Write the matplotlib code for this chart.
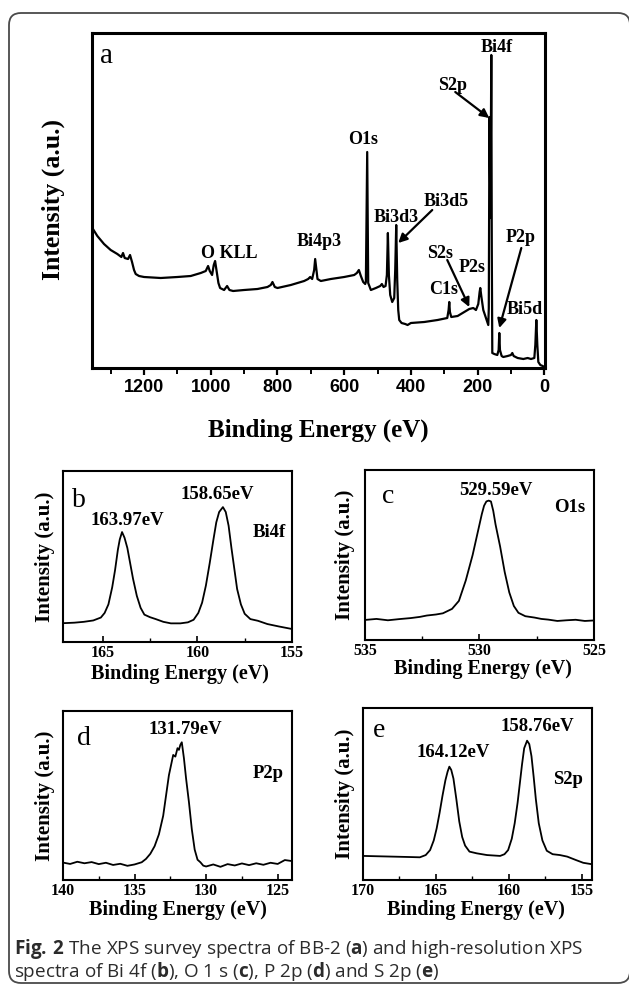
import matplotlib
matplotlib.use('Agg')
import matplotlib.pyplot as plt
from matplotlib.patches import FancyBboxPatch
from matplotlib.transforms import IdentityTransform
from matplotlib.ticker import MultipleLocator

plt.rcParams['font.family'] = ['Liberation Serif', 'DejaVu Serif']
plt.rcParams['mathtext.fontset'] = 'custom'
plt.rcParams['mathtext.rm'] = 'Open Sans'
plt.rcParams['mathtext.bf'] = 'Open Sans:bold'

# ---------------- data ----------------
# (a) survey spectrum: binding energy (eV) and intensity (a.u.)
survey_energy = [1355, 1340, 1320, 1300, 1280, 1268, 1263, 1258, 1248, 1242, 1236, 1230, 1225, 1215,
                 1200, 1150, 1100, 1060, 1030, 1015, 1008, 1003, 996, 991, 987, 983, 977, 972, 960,
                 951, 944, 933, 900, 860, 830, 820, 815, 808, 800, 760, 720, 708, 702, 696, 690, 687,
                 684, 680, 670, 640, 600, 570, 562, 556, 550, 543, 537, 535, 531, 528, 520, 505, 492,
                 487, 482, 476, 472, 469, 466, 462, 456, 450, 447, 444, 441, 438, 435, 428, 417, 410,
                 400, 360, 320, 291, 287, 285, 283, 279, 260, 240, 225, 213, 205, 198, 194, 192, 189,
                 183, 177, 171, 168, 166.5, 164.5, 161.5, 159, 157.5, 156, 150, 141, 137, 135, 133,
                 128, 123, 110, 100, 96, 92, 80, 63, 50, 40, 30, 27, 24, 21, 18, 12, 5, 0]
survey_intensity = [140, 132, 124, 118, 114, 111, 115, 110, 109, 113, 106, 98, 94, 92,
                    91, 90, 91, 92, 95, 97, 102, 97, 93, 103, 107, 98, 85, 80, 78,
                    82, 78, 77, 78, 79, 81, 83, 86, 81, 80, 83, 87, 89, 91, 89, 98, 109,
                    100, 89, 87, 89, 91, 93, 95, 98, 92, 86, 84, 86, 216, 85, 78, 80, 82,
                    84, 81, 82, 93, 135, 93, 73, 66, 70, 98, 143, 88, 58, 48, 45, 44, 43,
                    45, 46, 48, 50, 58, 66, 56, 51, 52, 56, 59, 60, 58, 64, 76, 80, 72,
                    58, 52, 46, 43, 60, 251, 150, 313, 118, 15, 14, 13, 18, 35, 18,
                    12, 11, 12, 13, 15, 12, 10, 9, 10, 9, 10, 23, 48, 23, 6, 3, 2, 1]

# (b) Bi 4f
bi4f_energy = [167.1, 166.5, 166.0, 165.5, 165.1, 164.9, 164.7, 164.5, 164.35, 164.2, 164.1, 163.98,
               163.85, 163.7, 163.55, 163.4, 163.2, 163.0, 162.8, 162.5, 162.2, 161.8, 161.4, 160.9,
               160.5, 160.2, 159.95, 159.75, 159.55, 159.35, 159.15, 159.0, 158.85, 158.65, 158.5,
               158.35, 158.2, 158.05, 157.9, 157.7, 157.5, 157.2, 156.8, 156.3, 155.7, 155.0]
bi4f_intensity = [11.0, 11.3, 11.8, 12.6, 14.3, 17.0, 22, 32, 42, 54, 60, 64.3,
                  61, 55, 46, 37, 27, 20, 16, 14.5, 13.4, 11.8, 10.9, 10.9,
                  11.5, 13, 17, 23, 33, 46, 60, 70, 76, 78.9, 76,
                  68, 55, 43, 31, 22, 16.5, 13.4, 12.4, 10.5, 9.1, 7.6]

# (c) O 1s
o1s_energy = [535, 534.5, 534, 533.5, 533, 532.6, 532.3, 531.9, 531.6, 531.2, 530.9, 530.6, 530.3,
              530.1, 530.0, 529.9, 529.8, 529.7, 529.6, 529.5, 529.4, 529.3, 529.1, 528.9, 528.7,
              528.5, 528.3, 528.0, 527.6, 527.3, 527.0, 526.6, 526.2, 525.8, 525.4, 525.0]
o1s_intensity = [11.8, 12.4, 11.6, 12.3, 12.9, 13.6, 14.4, 15.0, 15.7, 18.3, 23, 35, 50,
                 62, 68, 74, 79, 81.5, 82, 81.5, 76, 68, 55, 40, 28,
                 20, 16, 14, 13.2, 12.4, 12.0, 11.2, 11.6, 11.9, 11.2, 11.5]

# (d) P 2p
p2p_energy = [140, 139.5, 139, 138.5, 138, 137.5, 137, 136.5, 136, 135.5, 135, 134.5, 134.2, 133.9,
              133.6, 133.3, 133.0, 132.8, 132.6, 132.4, 132.3, 132.15, 132.0, 131.9, 131.8, 131.7,
              131.55, 131.4, 131.2, 131.0, 130.8, 130.6, 130.4, 130.2, 130.0, 129.5, 129, 128.5,
              128, 127.5, 127, 126.5, 126, 125.5, 125, 124.5, 124]
p2p_intensity = [10.3, 9.5, 10.8, 9.9, 10.6, 9.4, 10.2, 8.9, 9.6, 8.4, 9.2, 10.5, 12.5, 15.5,
                 20, 27, 38, 50, 62, 70, 74, 73, 78, 77, 80, 81.5,
                 72, 60, 46, 30, 18, 12, 10.5, 8.5, 8.0, 9.2, 7.8, 9.4,
                 8.6, 9.8, 8.8, 9.9, 9.0, 10.2, 9.5, 11.8, 11.2]

# (e) S 2p
s2p_energy = [170, 169, 168, 167, 166.1, 165.7, 165.4, 165.15, 164.95, 164.75, 164.55, 164.35, 164.2,
              164.08, 163.95, 163.8, 163.6, 163.4, 163.2, 163.0, 162.7, 162.2, 161.5, 160.6, 160.3,
              160.05, 159.8, 159.6, 159.4, 159.25, 159.1, 158.95, 158.75, 158.6, 158.45, 158.3,
              158.15, 157.95, 157.7, 157.4, 157.0, 156.5, 156.0, 155.4, 154.9, 154.4]
s2p_intensity = [14.0, 13.8, 13.6, 13.4, 13.2, 14.5, 17.4, 23, 30, 39, 49, 58, 63,
                 65.9, 64, 59, 47, 34, 25, 20, 16.5, 15.5, 14.5, 14.0, 15,
                 17.4, 24, 33, 45, 56, 67, 76.6, 81, 79, 72, 60,
                 47, 33, 23, 17, 15, 14.5, 13.6, 11.6, 10, 9.3]

survey_ticks = [1200, 1000, 800, 600, 400, 200, 0]

# ---------------- figure ----------------
W, H = 629, 990
fig = plt.figure(figsize=(W / 100, H / 100), dpi=100)


def fx(x):
    return x / W


def fy(y):
    return 1 - y / H


def rect(l, t, r, b):
    return [fx(l), fy(b), (r - l) / W, (b - t) / H]


# outer rounded frame
frame = FancyBboxPatch((9, 7), 621, 970, boxstyle='round,pad=0,rounding_size=12',
                       transform=IdentityTransform(), fill=False, ec='#4a4a4a', lw=1.3)
fig.patches.append(frame)

# ---- panel a ----
axA = fig.add_axes(rect(92, 33, 545, 368))
axA.plot(survey_energy, survey_intensity, color='k', lw=1.6)
axA.set_xlim(1356, -2)
axA.set_ylim(0, 335)
axA.set_yticks([])
axA.set_xticks(survey_ticks)
axA.xaxis.set_minor_locator(MultipleLocator(100))
axA.tick_params(axis='x', which='major', direction='out', length=5, width=1.6, pad=3,
                labelsize=13)
axA.tick_params(axis='x', which='minor', direction='out', length=4, width=1.4)
for lab in axA.get_xticklabels():
    lab.set_fontfamily('Liberation Sans')
    lab.set_fontweight('bold')
for sp in axA.spines.values():
    sp.set_linewidth(2.2)

peak_font = dict(fontsize=13, fontweight='bold', ha='center', va='center')
axA.text(144, 320, 'Bi4f', **peak_font)
axA.text(276, 282, 'S2p', **peak_font)
axA.text(543, 228, 'O1s', **peak_font)
axA.text(294, 166, 'Bi3d5', **peak_font)
axA.text(444, 151, 'Bi3d3', **peak_font)
axA.text(675, 127, 'Bi4p3', **peak_font)
axA.text(945, 114, 'O KLL', **peak_font)
axA.text(312, 115, 'S2s', **peak_font)
axA.text(216, 101, 'P2s', **peak_font)
axA.text(303, 79, 'C1s', **peak_font)
axA.text(72, 130, 'P2p', **peak_font)
axA.text(60, 59, 'Bi5d', **peak_font)
arrow = dict(arrowstyle='-|>', color='k', lw=1.6, mutation_scale=13, shrinkA=0, shrinkB=0)
axA.annotate('', xy=(165, 250), xytext=(267, 276), arrowprops=arrow)
axA.annotate('', xy=(438, 125), xytext=(336, 158), arrowprops=arrow)
axA.annotate('', xy=(225, 61), xytext=(291, 108), arrowprops=arrow)
axA.annotate('', xy=(135, 40), xytext=(69, 120), arrowprops=arrow)
axA.text(0.018, 0.91, 'a', transform=axA.transAxes, fontsize=21, ha='left', va='baseline')

fig.text(fx(318), fy(437), 'Binding Energy (eV)', fontsize=18, fontweight='bold',
         ha='center', va='baseline')
fig.text(fx(53), fy(200), 'Intensity (a.u.)', fontsize=18.5, fontweight='bold',
         ha='center', va='center', rotation=90)


# ---- small panels ----
def small_panel(box, e, i, xlim, ticks, letter, letter_xy):
    ax = fig.add_axes(box)
    ax.plot(e, i, color='k', lw=1.3)
    ax.set_xlim(*xlim)
    ax.set_ylim(0, 100)
    ax.set_yticks([])
    ax.set_xticks(ticks)
    ax.xaxis.set_minor_locator(MultipleLocator(2.5))
    ax.tick_params(axis='x', which='major', direction='in', length=4, width=1.2, pad=2,
                   labelsize=11.5)
    ax.tick_params(axis='x', which='minor', direction='in', length=3, width=1.0)
    for lab in ax.get_xticklabels():
        lab.set_fontweight('bold')
    for sp in ax.spines.values():
        sp.set_linewidth(1.5)
    ax.text(letter_xy[0], letter_xy[1], letter, transform=ax.transAxes, fontsize=20,
            ha='left', va='baseline')
    return ax


axB = small_panel(rect(63, 471, 292, 642), bi4f_energy, bi4f_intensity, (167.1, 155),
                  [165, 160, 155], 'b', (0.04, 0.79))
axC = small_panel(rect(365, 470, 594, 640), o1s_energy, o1s_intensity, (535, 525),
                  [535, 530, 525], 'c', (0.074, 0.805))
axD = small_panel(rect(63, 711, 292, 880), p2p_energy, p2p_intensity, (140, 124),
                  [140, 135, 130, 125], 'd', (0.061, 0.80))
axE = small_panel(rect(363, 708, 592, 880), s2p_energy, s2p_intensity, (170, 154.3),
                  [170, 165, 160, 155], 'e', (0.044, 0.83))

lbl = dict(fontsize=13.5, fontweight='bold', ha='center', va='center')
axB.text(163.69, 71.3, '163.97eV', **lbl)
axB.text(158.96, 86, '158.65eV', **lbl)
axB.text(156.2, 64.3, 'Bi4f', **lbl)
axC.text(529.28, 88.2, '529.59eV', **lbl)
axC.text(526.05, 78.2, 'O1s', **lbl)
axD.text(131.47, 88.8, '131.79eV', **lbl)
axD.text(125.67, 63.3, 'P2p', **lbl)
axE.text(163.84, 74.4, '164.12eV', **lbl)
axE.text(158.08, 89, '158.76eV', **lbl)
axE.text(155.96, 58.7, 'S2p', **lbl)

for (xc, yb) in [(180, 679), (483, 674), (178, 915), (476, 915)]:
    fig.text(fx(xc), fy(yb), 'Binding Energy (eV)', fontsize=14.5, fontweight='bold',
             ha='center', va='baseline')
for (xc, yc) in [(45, 557), (345, 555), (45, 796), (345, 794)]:
    fig.text(fx(xc), fy(yc), 'Intensity (a.u.)', fontsize=15, fontweight='bold',
             ha='center', va='center', rotation=90)

# ---- caption (one two-line text) ----
caption = (r'$\mathbf{Fig.\,2}$ The XPS survey spectra of BB-2 ($\mathbf{a}$) and high-resolution XPS'
           '\n'
           r'spectra of Bi 4f ($\mathbf{b}$), O 1 s ($\mathbf{c}$), P 2p ($\mathbf{d}$) '
           r'and S 2p ($\mathbf{e}$)')
fig.text(fx(14), fy(937), caption, fontsize=13.6, family='Open Sans', color='#2b2b2b',
         ha='left', va='top', linespacing=0.93)

fig.savefig('out.png', dpi=100)
